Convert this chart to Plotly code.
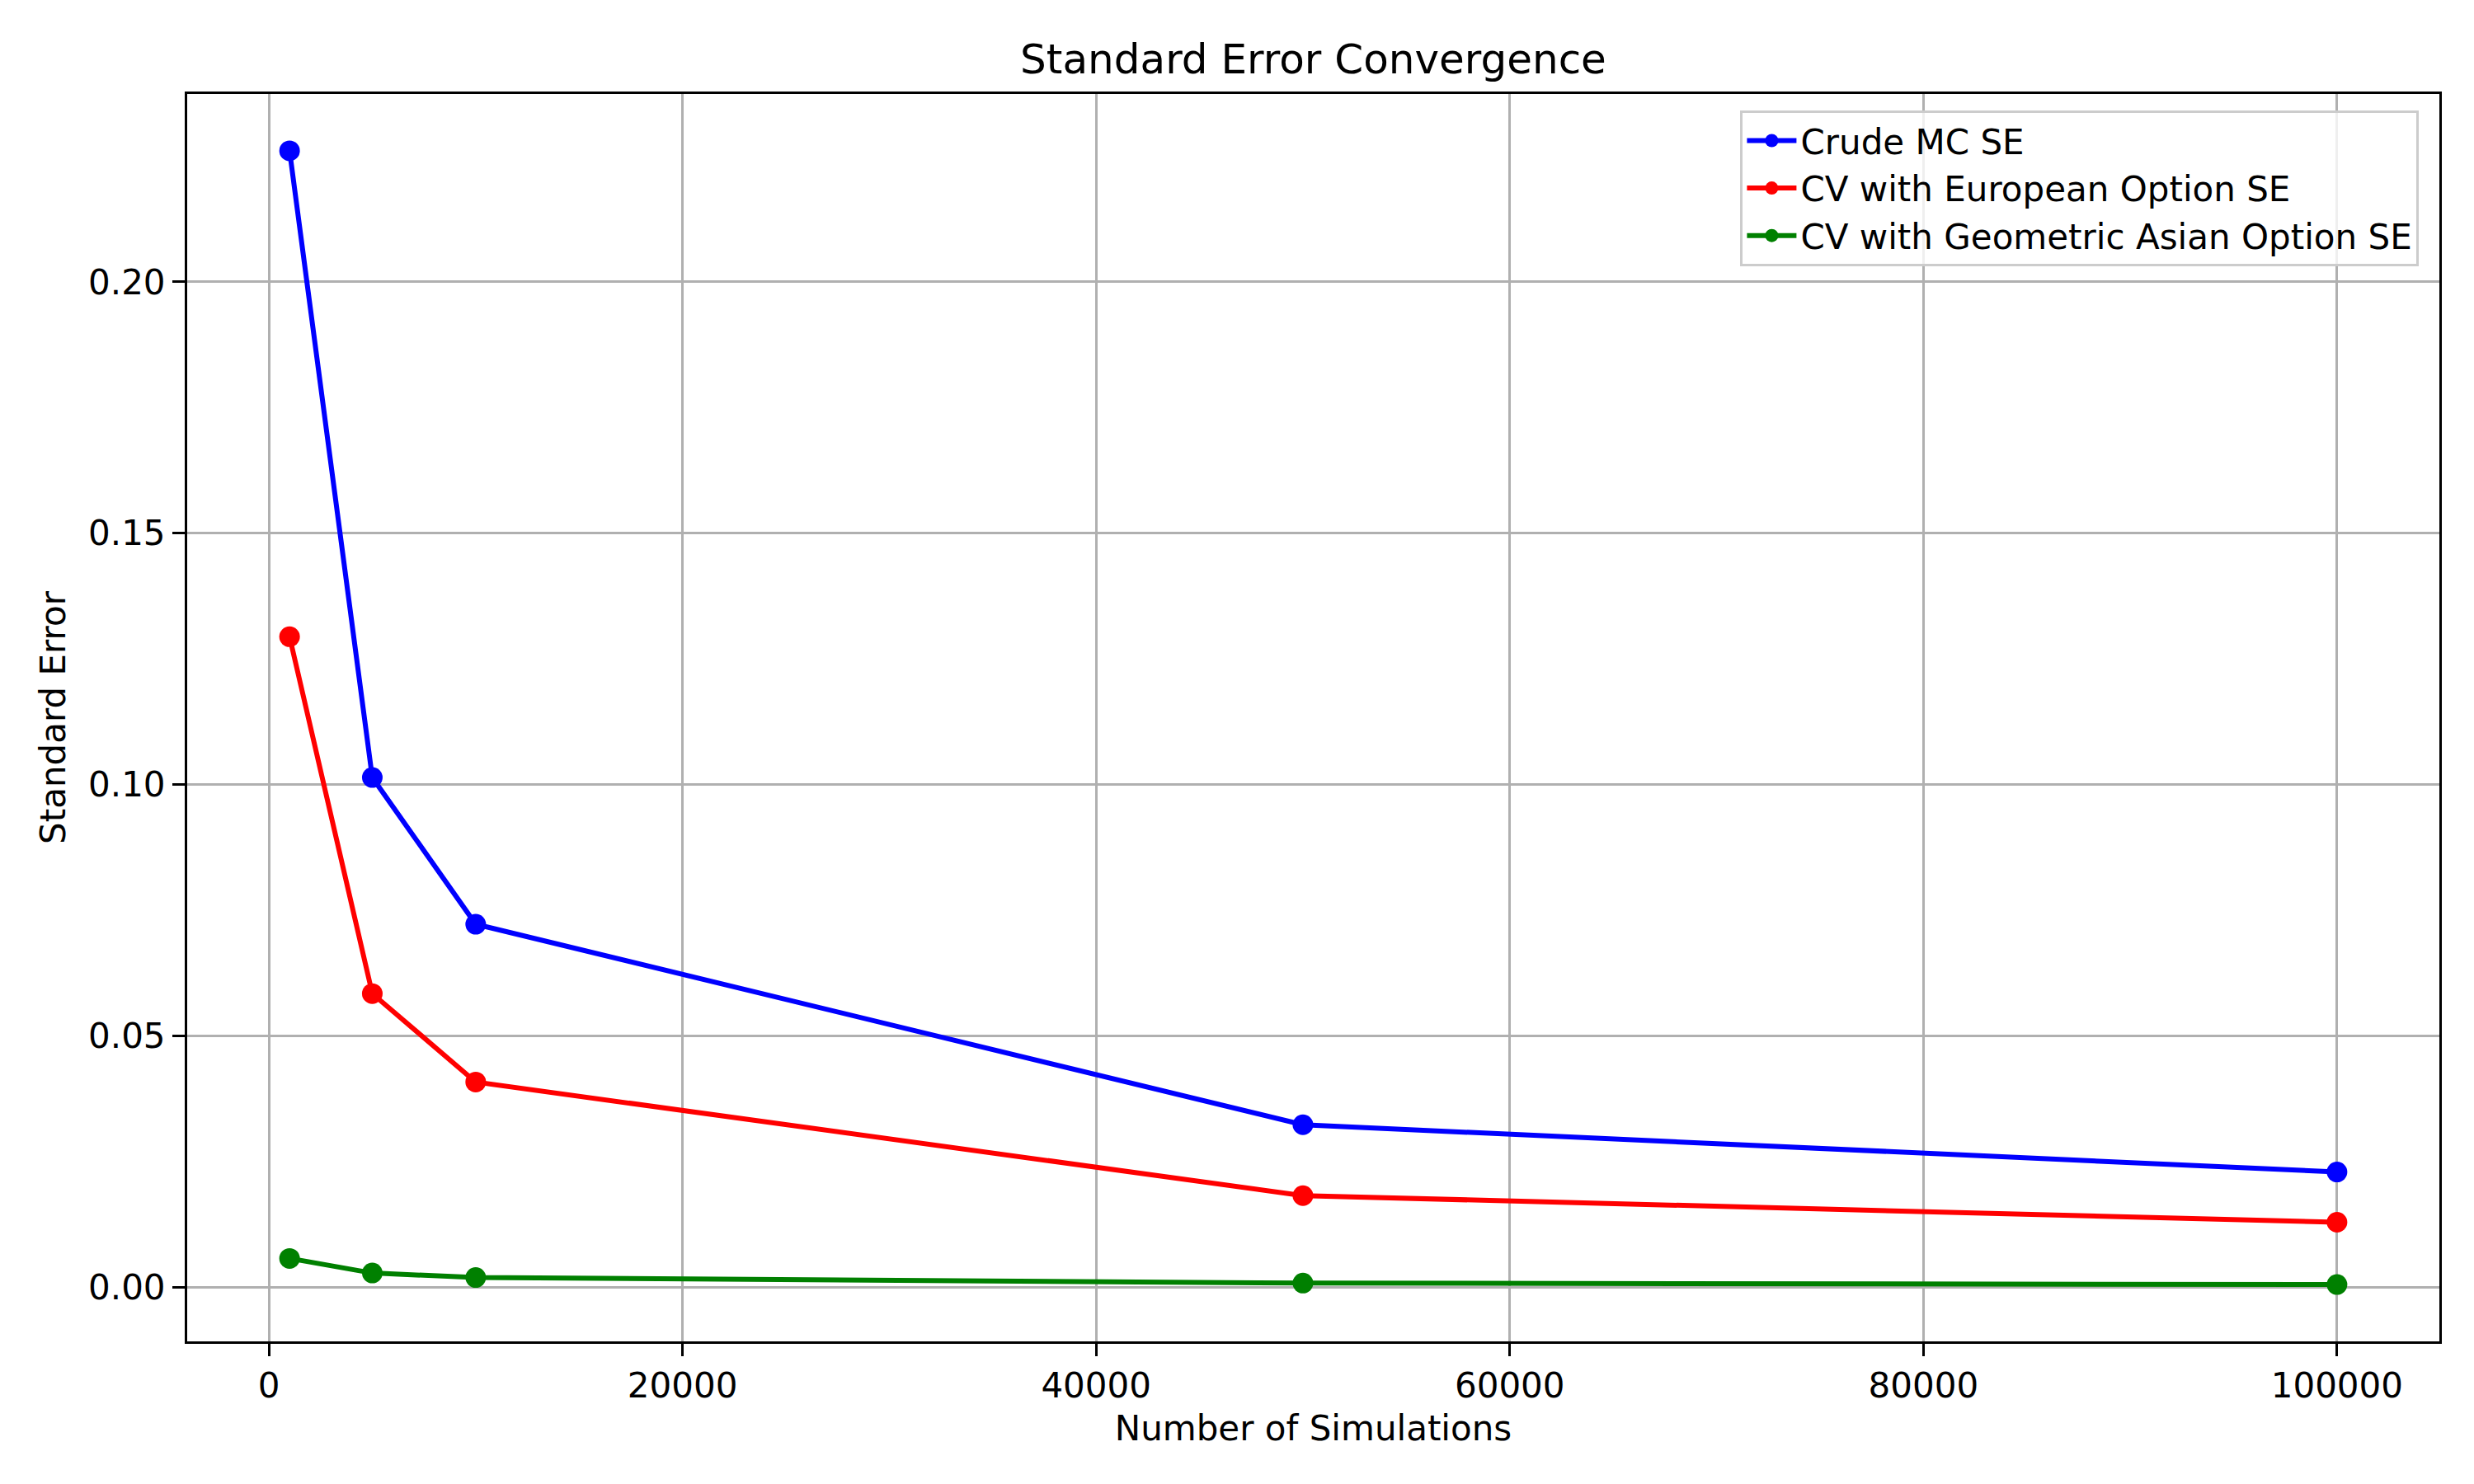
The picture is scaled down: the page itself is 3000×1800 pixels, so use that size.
import plotly.graph_objects as go

n_sims = [1000, 5000, 10000, 50000, 100000]
crude_se = [0.2261, 0.1014, 0.0722, 0.0323, 0.0229]
cv_euro_se = [0.1294, 0.0584, 0.0408, 0.0182, 0.0129]
cv_geo_se = [0.0057, 0.0028, 0.0019, 0.0008, 0.0005]

series = [
    ("Crude MC SE", crude_se, "#0000ff"),
    ("CV with European Option SE", cv_euro_se, "#ff0000"),
    ("CV with Geometric Asian Option SE", cv_geo_se, "#008000"),
]

FONT = "DejaVu Sans"
fig = go.Figure()
for name, vals, col in series:
    fig.add_trace(go.Scatter(
        x=n_sims, y=vals, name=name, mode="lines+markers",
        line=dict(color=col, width=6),
        marker=dict(color=col, size=25),
    ))

axis_common = dict(
    showline=True, mirror=True, linecolor="black", linewidth=3,
    ticks="outside", ticklen=15, tickwidth=3, tickcolor="black",
    showgrid=True, gridcolor="#b0b0b0", gridwidth=3, zeroline=False,
    tickfont=dict(family=FONT, size=42, color="black"),
)

fig.update_xaxes(
    range=[-3950, 104950], tickvals=[0, 20000, 40000, 60000, 80000, 100000],
    tickformat="d",
    title=dict(text="Number of Simulations", font=dict(family=FONT, size=42, color="black"), standoff=14),
    **axis_common,
)
fig.update_yaxes(
    range=[-0.0108, 0.2374], tickvals=[0.0, 0.05, 0.10, 0.15, 0.20],
    tickformat=".2f",
    title=dict(text="Standard Error", font=dict(family=FONT, size=42, color="black"), standoff=15),
    **axis_common,
)

fig.update_layout(
    width=3000, height=1800,
    margin=dict(l=219, r=50, t=106, b=181),
    paper_bgcolor="white", plot_bgcolor="white",
    font=dict(family=FONT, size=42, color="black"),
    title=dict(text="Standard Error Convergence", font=dict(family=FONT, size=50, color="black"),
               x=0.5, xref="paper", xanchor="center", y=1 - 63 / 1800, yref="container", yanchor="middle"),
    legend=dict(
        x=0.991, y=0.987, xanchor="right", yanchor="top",
        bgcolor="rgba(255,255,255,0.8)", bordercolor="#cccccc", borderwidth=3,
        font=dict(family=FONT, size=42, color="black"),
        itemwidth=60, tracegroupgap=0,
    ),
    showlegend=True,
)

fig.write_html("out.html")
